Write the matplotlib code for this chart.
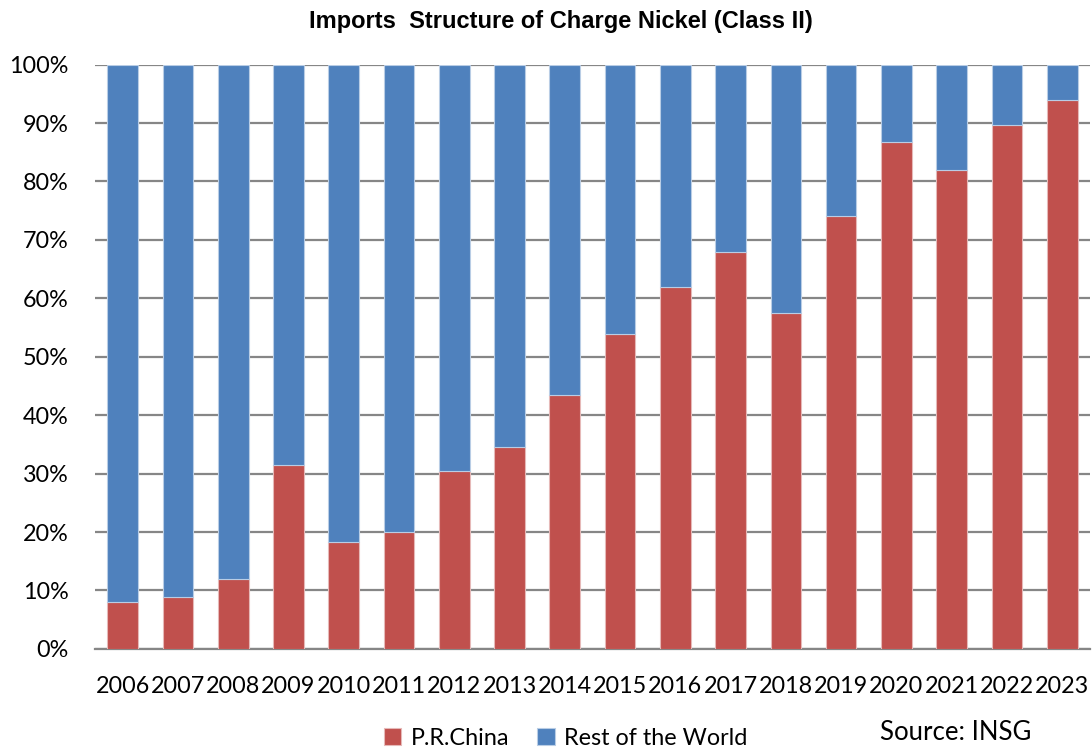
import matplotlib.pyplot as plt
import numpy as np

years = [str(y) for y in range(2006, 2024)]
china = [8.1, 8.8, 11.9, 31.4, 18.3, 20.0, 30.5, 34.6, 43.5, 53.9,
         61.9, 68.0, 57.5, 74.1, 86.8, 81.9, 89.6, 94.0]
rest = [100 - v for v in china]

red = '#C0504D'
blue = '#4F81BD'

fig = plt.figure(figsize=(10.92, 7.51), dpi=100)
ax = fig.add_axes([0.087, 0.136, 0.911, 0.778])

x = np.arange(len(years))
ax.bar(x, china, width=0.555, color=red, edgecolor='#E6B9B8', linewidth=0.8,
       label='P.R.China', zorder=3)
ax.bar(x, rest, width=0.555, bottom=china, color=blue, edgecolor='#B9CDE5',
       linewidth=0.8, label='Rest of the World', zorder=3)

ax.set_xlim(-0.5, len(years) - 0.5)
ax.set_ylim(0, 100)
ax.set_yticks(range(0, 101, 10))
ax.set_yticklabels([f'{v}%' for v in range(0, 101, 10)])
ax.set_xticks(x)
ax.set_xticklabels(years)
ax.tick_params(axis='both', length=0, labelsize=16.8)
ax.tick_params(axis='y', pad=19)
ax.tick_params(axis='x', pad=19.5)
for lab in ax.get_xticklabels() + ax.get_yticklabels():
    lab.set_family('Lato')

ax.grid(axis='y', color='#868686', linewidth=1.6, zorder=0)
for s in ['top', 'right', 'left']:
    ax.spines[s].set_visible(False)
ax.spines['bottom'].set_color('#868686')
ax.spines['bottom'].set_linewidth(1.6)

fig.text(0.514, 0.972, 'Imports  Structure of Charge Nickel (Class II)',
         ha='center', va='center', fontsize=17, fontweight='bold',
         family='Liberation Sans')

leg = fig.legend(loc='center', bbox_to_anchor=(0.518, 0.017), ncol=2,
                 frameon=False, handlelength=0.75, handleheight=0.75,
                 handletextpad=0.4, columnspacing=1.2,
                 prop={'family': 'Lato', 'size': 16.8})

fig.text(0.806, 0.024, 'Source: INSG', ha='left', va='center',
         fontsize=18.5, family='Lato')

fig.savefig('out.png', dpi=100)
